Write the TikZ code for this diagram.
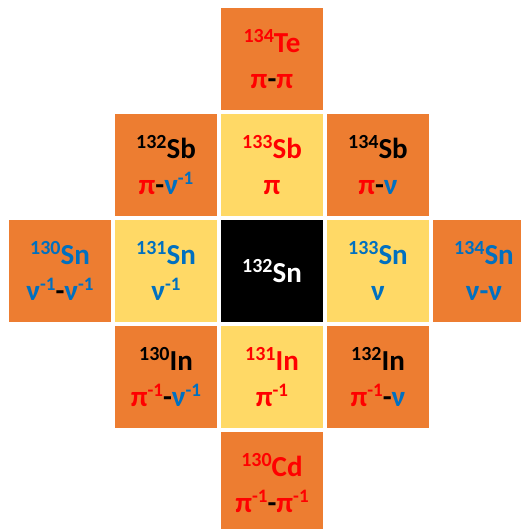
\documentclass[tikz,border=0pt]{standalone}
\usepackage{fontspec}
\setmainfont{Carlito}
\definecolor{shellorange}{HTML}{ED7D31}
\definecolor{holegold}{HTML}{FFD966}
\definecolor{protred}{HTML}{FF0000}
\definecolor{neutblue}{HTML}{0070C0}
\newcommand{\iso}[2]{\raisebox{10pt}{\fontsize{20}{20}\selectfont #1}#2}
\newcommand{\inv}{\raisebox{10pt}{\fontsize{19}{19}\selectfont -1}}
\newcommand{\prot}{\textcolor{protred}{π}}
\newcommand{\neut}{\textcolor{neutblue}{ν}}
\newcommand{\pinv}{\textcolor{protred}{π\inv}}
\newcommand{\ninv}{\textcolor{neutblue}{ν\inv}}

\begin{document}
\begin{tikzpicture}[x=106pt, y=106pt,
		box/.style={fill=shellorange, minimum size=102pt, inner sep=0pt, align=center, font=\fontsize{29}{36}\selectfont\bfseries},
		single/.style={box, fill=holegold},
		core/.style={box, fill=black, text=white}
	]
	\useasboundingbox (-2.566,-2.434) rectangle (2.349,2.557);

	\node[box] (te134) at (0, 2) {\textcolor{protred}{\iso{134}{Te}}\\\prot-\prot};

	\node[box] (sb132) at (-1, 1) {\iso{132}{Sb}\\\prot-\ninv};
	\node[single] (sb133) at (0, 1) {\textcolor{protred}{\iso{133}{Sb}}\\\prot};
	\node[box] (sb134) at (1, 1) {\iso{134}{Sb}\\\prot-\neut};

	\node[box] (sn130) at (-2, 0) {\textcolor{neutblue}{\iso{130}{Sn}}\\\ninv-\ninv};
	\node[single] (sn131) at (-1, 0) {\textcolor{neutblue}{\iso{131}{Sn}}\\\ninv};
	\node[core] (sn132) at (0, 0) {\iso{132}{Sn}};
	\node[single] (sn133) at (1, 0) {\textcolor{neutblue}{\iso{133}{Sn}}\\\neut};
	\node[box] (sn134) at (2, 0) {\textcolor{neutblue}{\iso{134}{Sn}}\\\textcolor{neutblue}{ν-ν}};

	\node[box] (in130) at (-1, -1) {\iso{130}{In}\\\pinv-\ninv};
	\node[single] (in131) at (0, -1) {\textcolor{protred}{\iso{131}{In}}\\\pinv};
	\node[box] (in132) at (1, -1) {\iso{132}{In}\\\pinv-\neut};

	\node[box] (cd130) at (0, -2) {\textcolor{protred}{\iso{130}{Cd}}\\\pinv-\pinv};
\end{tikzpicture}
\end{document}
